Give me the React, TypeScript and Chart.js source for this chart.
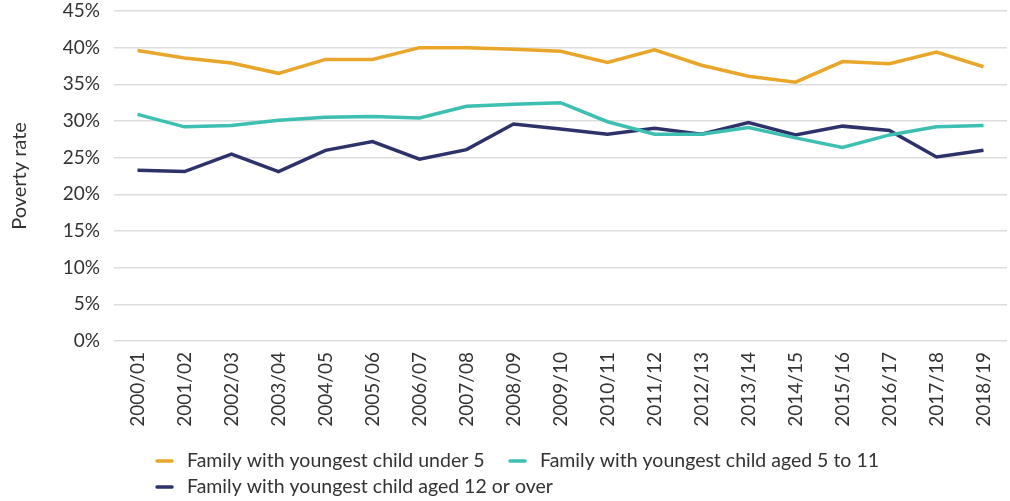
import React, { useEffect, useRef } from "react";
import { Chart, registerables } from "chart.js";

Chart.register(...registerables);

const categories = [
  "2000/01", "2001/02", "2002/03", "2003/04", "2004/05", "2005/06", "2006/07",
  "2007/08", "2008/09", "2009/10", "2010/11", "2011/12", "2012/13", "2013/14",
  "2014/15", "2015/16", "2016/17", "2017/18", "2018/19",
];

const under5 = [39.6, 38.6, 37.9, 36.5, 38.4, 38.4, 40.0, 40.0, 39.8, 39.5, 38.0, 39.7, 37.6, 36.1, 35.3, 38.1, 37.8, 39.4, 37.4];
const aged5to11 = [30.9, 29.2, 29.4, 30.1, 30.5, 30.6, 30.4, 32.0, 32.3, 32.5, 29.9, 28.2, 28.2, 29.1, 27.7, 26.4, 28.1, 29.2, 29.4];
const aged12plus = [23.3, 23.1, 25.5, 23.1, 26.0, 27.2, 24.8, 26.1, 29.6, 28.9, 28.2, 29.0, 28.2, 29.8, 28.1, 29.3, 28.7, 25.1, 26.0];

const seriesLabels = [
  "Family with youngest child under 5",
  "Family with youngest child aged 5 to 11",
  "Family with youngest child aged 12 or over",
];
const yTicks = [0, 5, 10, 15, 20, 25, 30, 35, 40, 45];

const FONT = "Lato, 'Open Sans', sans-serif";
const TEXT = "#333333";

const legendPlugin = {
  id: "customLegend",
  afterDraw(chart: any) {
    const ctx = chart.ctx;
    const pos = [
      { x: 155, y: 461 },
      { x: 508, y: 461 },
      { x: 155, y: 487 },
    ];
    ctx.save();
    ctx.font = `19.5px ${FONT}`;
    ctx.textBaseline = "middle";
    chart.data.datasets.forEach((ds: any, i: number) => {
      const p = pos[i];
      ctx.strokeStyle = ds.borderColor;
      ctx.lineWidth = 3.5;
      ctx.lineCap = "round";
      ctx.beginPath();
      ctx.moveTo(p.x + 2, p.y);
      ctx.lineTo(p.x + 17, p.y);
      ctx.stroke();
      ctx.fillStyle = TEXT;
      ctx.fillText(ds.label, p.x + 32, p.y);
    });
    ctx.restore();
  },
};

export default function App() {
  const ref = useRef<HTMLCanvasElement | null>(null);
  useEffect(() => {
    if (!ref.current) return;
    const chart = new Chart(ref.current, {
      type: "line",
      data: {
        labels: categories,
        datasets: [
          { label: seriesLabels[0], data: under5, borderColor: "#E9A62B", backgroundColor: "#E9A62B" },
          { label: seriesLabels[1], data: aged5to11, borderColor: "#3DBFB1", backgroundColor: "#3DBFB1" },
          { label: seriesLabels[2], data: aged12plus, borderColor: "#2D336A", backgroundColor: "#2D336A" },
        ],
      },
      options: {
        animation: false,
        responsive: false,
        devicePixelRatio: 1,
        layout: { padding: { top: 11, right: 3, bottom: 65, left: 0 } },
        elements: {
          line: { borderWidth: 3.5, tension: 0 },
          point: { radius: 0 },
        },
        plugins: {
          legend: { display: false },
          tooltip: { enabled: false },
        },
        scales: {
          x: {
            offset: true,
            grid: { display: false, drawTicks: false },
            border: { display: false },
            ticks: {
              color: TEXT,
              font: { family: FONT, size: 19 },
              maxRotation: 90,
              minRotation: 90,
              padding: 11,
              autoSkip: false,
            },
            afterFit: (s: any) => { s.height = 95; s.paddingLeft = 0; s.paddingRight = 0; },
          },
          y: {
            min: 0,
            max: 45,
            afterBuildTicks: (s: any) => { s.ticks = yTicks.map((v) => ({ value: v })); },
            grid: { color: "#DDDDDD", lineWidth: 1.5, drawTicks: false },
            border: { display: false },
            ticks: {
              color: TEXT,
              font: { family: FONT, size: 19 },
              padding: 14,
              callback: (v: any) => `${v}%`,
            },
            title: {
              display: true,
              text: "Poverty rate",
              color: TEXT,
              font: { family: FONT, size: 20 },
              padding: { top: 8, bottom: 0 },
            },
            afterFit: (s: any) => { s.width = 114; s.paddingTop = 0; s.paddingBottom = 0; },
          },
        },
      },
      plugins: [legendPlugin],
    });
    return () => chart.destroy();
  }, []);
  return (
    <div style={{ position: "fixed", left: 0, top: 0, width: 1010, height: 501, background: "#fff" }}>
      <canvas ref={ref} width={1010} height={501} style={{ width: 1010, height: 501 }} />
    </div>
  );
}
